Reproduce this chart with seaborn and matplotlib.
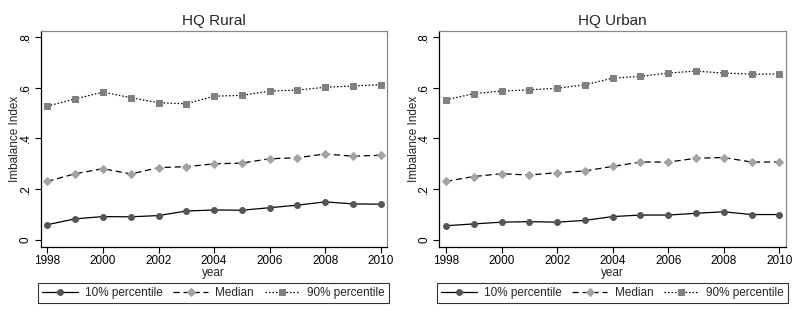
import numpy as np
import pandas as pd
import seaborn as sns
import matplotlib.pyplot as plt

years = list(range(1998, 2011))

rural_p10 = [0.060, 0.083, 0.092, 0.091, 0.096, 0.114, 0.118, 0.117, 0.127, 0.137, 0.150, 0.142, 0.141]
rural_med = [0.231, 0.261, 0.281, 0.260, 0.285, 0.289, 0.300, 0.303, 0.320, 0.324, 0.339, 0.330, 0.334]
rural_p90 = [0.528, 0.556, 0.583, 0.561, 0.541, 0.537, 0.567, 0.570, 0.587, 0.591, 0.602, 0.607, 0.612]

urban_p10 = [0.056, 0.063, 0.070, 0.072, 0.070, 0.077, 0.092, 0.098, 0.098, 0.105, 0.111, 0.100, 0.100]
urban_med = [0.231, 0.250, 0.261, 0.256, 0.265, 0.272, 0.290, 0.307, 0.307, 0.322, 0.325, 0.307, 0.307]
urban_p90 = [0.552, 0.577, 0.587, 0.592, 0.598, 0.612, 0.638, 0.645, 0.658, 0.666, 0.658, 0.654, 0.654]

series_names = ["10% percentile", "Median", "90% percentile"]
panel_titles = ["HQ Rural", "HQ Urban"]
ytick_vals = [0, 0.2, 0.4, 0.6, 0.8]
ytick_labels = ["0", ".2", ".4", ".6", ".8"]
xtick_vals = [1998, 2000, 2002, 2004, 2006, 2008, 2010]

sns.set_style("white")
plt.rcParams["font.family"] = ["Liberation Sans", "DejaVu Sans"]

styles = {
    "10% percentile": dict(marker="o", linestyle="-", mfc="#555555", ms=4.2),
    "Median": dict(marker="D", linestyle=(0, (5, 3)), mfc="#a3a3a3", ms=3.8),
    "90% percentile": dict(marker="s", linestyle=(0, (1.2, 1.6)), mfc="#808080", ms=4.2),
}

fig = plt.figure(figsize=(7.97, 3.19), dpi=100)
lefts = [40.7 / 797, 439.3 / 797]
legend_cx = [(44 + 383) / 2 / 797, (443 + 782) / 2 / 797]

panels = [
    (rural_p10, rural_med, rural_p90),
    (urban_p10, urban_med, urban_p90),
]

for k, (title, vals) in enumerate(zip(panel_titles, panels)):
    ax = fig.add_axes([lefts[k], 1 - 247 / 319, 346.2 / 797, 216 / 319])
    for name, v in zip(series_names, vals):
        st = styles[name]
        sns.lineplot(x=years, y=v, ax=ax, color="black", lw=0.9,
                     linestyle=st["linestyle"], marker=st["marker"],
                     markerfacecolor=st["mfc"], markeredgecolor=st["mfc"],
                     markersize=st["ms"], label=name)
    ax.set_xlim(1997.76, 2010.22)
    ax.set_ylim(-0.028, 0.824)
    ax.set_xticks(xtick_vals)
    ax.set_yticks(ytick_vals)
    ax.set_yticklabels(ytick_labels, rotation=90, va="center")
    ax.tick_params(axis="both", direction="out", length=4, width=0.8,
                   labelsize=8.5, colors="black", left=True, bottom=True)
    ax.tick_params(axis="x", pad=2)
    ax.tick_params(axis="y", pad=2.5)
    ax.set_xlabel("year", fontsize=8.5, labelpad=0)
    ax.set_ylabel("Imbalance Index", fontsize=8.5, labelpad=-1)
    ax.set_title(title, fontsize=11, pad=4)
    for side in ["left", "bottom"]:
        ax.spines[side].set_color("black")
        ax.spines[side].set_linewidth(0.9)
    for side in ["top", "right"]:
        ax.spines[side].set_color("#888888")
        ax.spines[side].set_linewidth(0.9)
    ax.legend_.remove()
    handles, labels = ax.get_legend_handles_labels()
    leg = fig.legend(handles, labels, loc="center",
                     bbox_to_anchor=(legend_cx[k], 1 - 293 / 319),
                     bbox_transform=fig.transFigure, ncol=3, fontsize=8.5,
                     frameon=True, fancybox=False, edgecolor="black",
                     handlelength=3.0, handletextpad=0.6, columnspacing=0.9,
                     borderpad=0.35, borderaxespad=0)
    leg.get_frame().set_linewidth(0.8)

fig.savefig("out.png", dpi=100)
